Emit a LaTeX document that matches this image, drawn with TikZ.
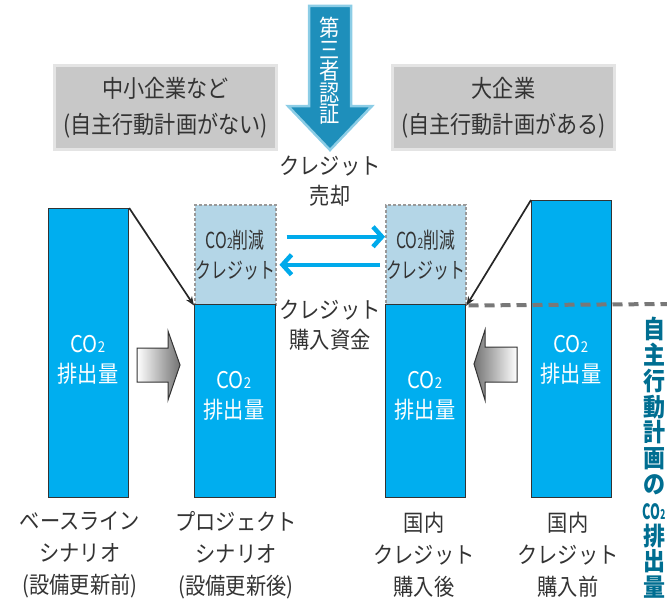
\documentclass[tikz,border=0pt]{standalone}
\usepackage{fontspec}
\setmainfont{Noto Sans CJK JP}[FakeStretch=0.88]
\newfontfamily\narrowfont{Noto Sans CJK JP}[FakeStretch=0.72]
\newfontfamily\tightfont{Noto Sans CJK JP}[FakeStretch=0.6]
\usetikzlibrary{arrows.meta,calc}
\definecolor{barblue}{RGB}{0,174,239}
\definecolor{creditfill}{RGB}{180,214,231}
\definecolor{txt}{RGB}{51,51,51}
\definecolor{boxgray}{RGB}{200,200,200}
\definecolor{boxedge}{RGB}{228,228,228}
\definecolor{arrowblue}{RGB}{30,143,187}
\definecolor{arrowedge}{RGB}{140,205,230}
\definecolor{flowcyan}{RGB}{0,170,235}
\definecolor{vtteal}{RGB}{0,110,145}
\definecolor{dashgray}{RGB}{120,120,120}
\newcommand\subtwo{\scalebox{0.65}{2}}
\begin{document}
\begin{tikzpicture}[x=1pt,y=-1pt,
  bar/.style={draw=black!80,line width=1.2pt,fill=barblue,anchor=north west,inner sep=0pt,minimum width=80pt},
  credit/.style={draw=black!40,dash pattern=on 3pt off 2pt,line width=1.5pt,fill=creditfill,anchor=north west,inner sep=0pt,minimum width=80pt,minimum height=100pt,text=txt,font=\narrowfont\fontsize{22}{30}\selectfont,align=center},
  bartext/.style={text=white,font=\fontsize{23}{30}\selectfont,align=center},
  lbl/.style={text=txt,font=\fontsize{23}{32}\selectfont,align=center},
  header/.style={draw=boxedge,line width=3pt,fill=boxgray,anchor=north west,minimum width=222pt,minimum height=84pt,inner sep=0pt,text=txt,font=\fontsize{24}{36}\selectfont,align=center},
  flow/.style={draw=flowcyan,line width=4.5pt,-{Straight Barb[length=9pt,width=20pt]}},
  blk/.style={draw=black!85,line width=1.7pt,-{Stealth[length=9pt,width=7pt]}},
  blockarrow/.style={draw=black!80,line width=1pt}
]
\useasboundingbox (0,0) rectangle (667,610);

% headers
\node[header] (h1) at (53,64) {中小企業など\\(自主行動計画がない)};
\node[header] (h2) at (391,64) {大企業\\(自主行動計画がある)};

% third party certification arrow
\draw[arrowedge,line width=2.5pt,fill=arrowblue,line join=miter]
  (309,6) -- (351,6) -- (351,106) -- (372,106) -- (330,150) -- (288,106) -- (309,106) -- cycle;
\node[text=white,font=\fontsize{23}{21.5}\selectfont,align=center] (cert) at (330,71) {第\\三\\者\\認\\証};

% middle texts
\node[lbl,font=\fontsize{23}{30}\selectfont] (sell) at (330,181) {クレジット\\売却};
\node[lbl,font=\fontsize{23}{30}\selectfont] (fund) at (330,325) {クレジット\\購入資金};

% credit boxes and bars
\node[credit,minimum width=81pt] (c2) at (194,204) {CO\subtwo 削減\\クレジット};
\node[credit] (c3) at (385,204) {CO\subtwo 削減\\クレジット};
\node[bar,minimum height=289pt] (b1) at (48,208) {};
\node[bar,minimum width=81pt,minimum height=193pt] (b2) at (194,304) {};
\node[bar,minimum height=193pt] (b3) at (385,304) {};
\node[bar,minimum height=297pt] (b4) at (531,200) {};

\node[bartext] (t1) at (88,360) {CO\subtwo\\排出量};
\node[bartext] (t2) at (234,396) {CO\subtwo\\排出量};
\node[bartext] (t3) at (425,396) {CO\subtwo\\排出量};
\node[bartext] (t4) at (571,360) {CO\subtwo\\排出量};

% flows
\draw[flow] ([shift={(10,-18)}]c2.east) -- ([shift={(0,-18)}]c3.west);
\draw[flow] ([shift={(-5,10)}]c3.west) -- ([shift={(3,10)}]c2.east);

% black connectors
\draw[blk] (b1.north east) -- (c2.south west);
\draw[blk] (b4.north west) -- (c3.south east);

% dashed level line
\coordinate (dashend) at (667,304);
\draw[dashgray,line width=4pt,dash pattern=on 10pt off 6pt] ([xshift=2pt]c3.south east) -- (dashend);

% gray block arrows
\shadedraw[blockarrow,left color=white,right color=black!55]
  (137,348) -- (168,348) -- (168,331) -- (180,365) -- (168,400) -- (168,382) -- (137,382) -- cycle;
\shadedraw[blockarrow,left color=black!55,right color=white]
  (517,347) -- (485,347) -- (485,330) -- (474,364) -- (485,400) -- (485,382) -- (517,382) -- cycle;

% bottom labels
\node[lbl] (l1) at (80,555) {ベースライン\\シナリオ\\(設備更新前)};
\node[lbl] (l2) at (236,555) {プロジェクト\\シナリオ\\(設備更新後)};
\node[lbl] (l3) at (424,555) {国内\\クレジット\\購入後};
\node[lbl] (l4) at (568,555) {国内\\クレジット\\購入前};

% right vertical label
\node[text=vtteal,font=\bfseries\fontsize{25}{25.8}\selectfont,align=center,anchor=north,inner sep=0pt] (vt) at (654,317)
  {自\\主\\行\\動\\計\\画\\の\\{\tightfont\bfseries\fontsize{21}{21}\selectfont CO\subtwo}\\排\\出\\量};
\end{tikzpicture}
\end{document}
